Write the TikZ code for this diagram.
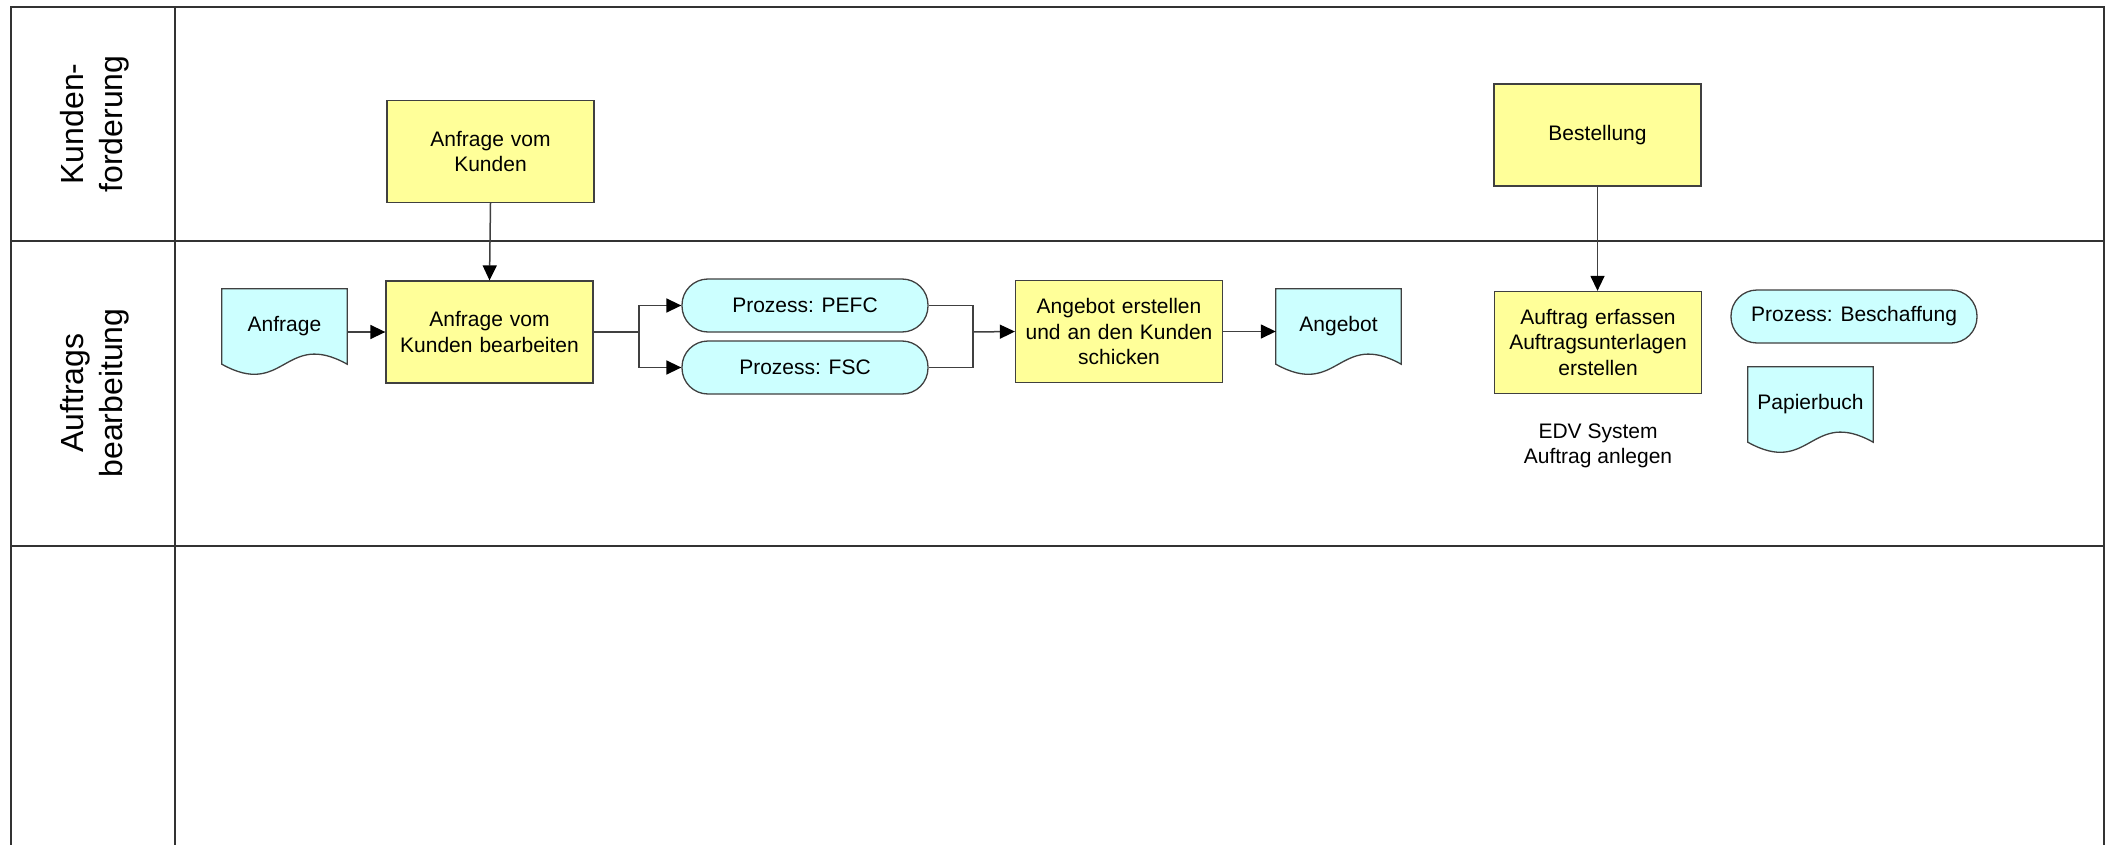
\documentclass[tikz,border=0pt]{standalone}
\usepackage{fontspec}
\setmainfont{Liberation Sans}
\usetikzlibrary{arrows.meta,calc,backgrounds}
\definecolor{procyellow}{HTML}{FFFF99}
\definecolor{doccyan}{HTML}{CCFFFF}
\definecolor{edgegray}{HTML}{404040}
\definecolor{framegray}{HTML}{333333}
\newcommand\drawdoc[1]{\draw[docshape] (#1.north west) -- (#1.north east) -- (#1.south east)
  .. controls ($(#1.south)+(0,-35)$) and ($(#1.south)+(0,35)$) .. (#1.south west) -- cycle;}
\begin{document}
\begin{tikzpicture}[x=1pt,y=-1pt,
  font=\fontsize{21}{25.5}\selectfont,
  frame/.style={draw=framegray,line width=2pt},
  procbox/.style={draw=edgegray,line width=1.3pt,fill=procyellow,minimum width=207pt,minimum height=102pt,align=center,inner sep=0pt,text width=200pt},
  capsule/.style={draw=edgegray,line width=1.3pt,fill=doccyan,rounded corners=26pt,minimum width=246pt,minimum height=53pt,inner sep=0pt},
  docnode/.style={minimum width=125pt,minimum height=75pt,inner sep=0pt},
  docshape/.style={draw=edgegray,line width=1.3pt,fill=doccyan},
  lanelabel/.style={font=\fontsize{32}{39}\selectfont,align=center,rotate=90},
  plaintext/.style={align=center,inner sep=0pt},
  conn/.style={draw=edgegray,line width=1.5pt},
  arr/.style={conn,-{Triangle[length=15pt,width=14pt,color=black]}}
]
\useasboundingbox (0,0) rectangle (2114,845);
% frame
\draw[frame] (11,845) -- (11,7) -- (2104,7) -- (2104,845);
\draw[frame] (175,7) -- (175,845);
\draw[frame] (11,241) -- (2104,241);
\draw[frame] (11,546) -- (2104,546);
% lane labels
\node[lanelabel] (lane1) at (95,124) {Kunden-\\forderung};
\node[lanelabel] (lane2) at (95,393) {Auftrags\\bearbeitung};
% nodes
\node[procbox] (anfk) at (490.5,151.5) {Anfrage vom\\Kunden};
\node[procbox] (best) at (1597.5,135) {Bestellung};
\node[procbox] (bearb) at (489.5,332) {Anfrage vom\\Kunden bearbeiten};
\node[procbox] (angerst) at (1119,331.5) {Angebot erstellen\\und an den Kunden\\schicken};
\node[procbox] (auftr) at (1598,342.5) {Auftrag erfassen\\Auftragsunterlagen\\erstellen};
\node[capsule] (pefc) at (805,305.5) {Prozess: PEFC};
\node[capsule] (fsc) at (805,367.5) {Prozess: FSC};
\node[capsule] (besch) at (1854,316.5) {Prozess: Beschaffung};
\node[docnode] (anf) at (284.5,326.5) {Anfrage};
\node[docnode] (angdoc) at (1338.5,326.5) {Angebot};
\node[docnode] (papier) at (1810.5,404.5) {Papierbuch};
\node[plaintext] (edv) at (1598,446) {EDV System\\Auftrag anlegen};
\begin{scope}[on background layer]
\fill[white] (0,0) rectangle (2114,845);
\drawdoc{anf}
\drawdoc{angdoc}
\drawdoc{papier}
\end{scope}
% connectors
\coordinate (split) at (639,332);
\coordinate (merge) at (973,332);
\draw[arr] (anfk.south) -- (bearb.north);
\draw[arr] (anf.east |- bearb.west) -- (bearb.west);
\draw[conn] (bearb.east) -- (split);
\draw[arr] (split) |- (pefc.west);
\draw[arr] (split) |- (fsc.west);
\draw[conn] (pefc.east) -| (merge);
\draw[conn] (fsc.east) -| (merge);
\draw[arr] (merge) -- (angerst.west);
\draw[arr] (angerst.east) -- (angerst.east -| angdoc.west);
\draw[arr] (best.south) -- (best.south |- auftr.north);
\end{tikzpicture}
\end{document}
